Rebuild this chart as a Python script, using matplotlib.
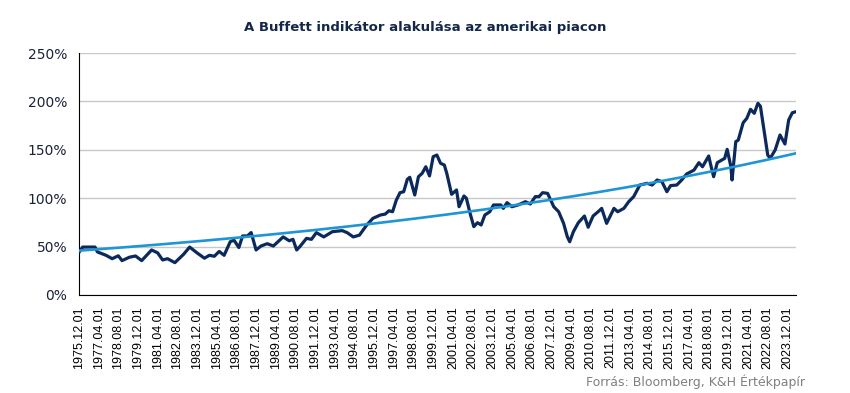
import numpy as np
import pandas as pd
import matplotlib
matplotlib.use('Agg')
import matplotlib.pyplot as plt
import matplotlib.dates as mdates
from matplotlib.ticker import FuncFormatter

# Buffett indikator (piaci kapitalizacio / GDP, %) - leolvasott ertekek
dates = ['1975-12', '1976-03', '1977-01', '1977-03', '1977-10', '1978-03', '1978-08', '1978-11',
         '1979-05', '1979-10', '1980-03', '1980-11', '1981-04', '1981-08', '1981-12', '1982-06',
         '1983-01', '1983-06', '1983-12', '1984-06', '1984-10', '1985-02', '1985-06', '1985-10',
         '1986-03', '1986-06', '1986-10', '1987-01', '1987-05', '1987-08', '1987-12', '1988-04',
         '1988-09', '1989-02', '1989-10', '1990-03', '1990-06', '1990-09', '1990-12', '1991-05',
         '1991-09', '1992-01', '1992-07', '1993-02', '1993-10', '1994-02', '1994-07', '1994-12',
         '1995-06', '1995-11', '1996-05', '1996-09', '1996-12', '1997-03', '1997-06', '1997-09',
         '1997-12', '1998-03', '1998-05', '1998-09', '1998-12', '1999-03', '1999-06', '1999-09',
         '1999-12', '2000-03', '2000-06', '2000-09', '2000-11', '2001-03', '2001-07', '2001-09',
         '2002-01', '2002-03', '2002-06', '2002-09', '2002-12', '2003-03', '2003-06', '2003-10',
         '2004-01', '2004-07', '2004-09', '2004-12', '2005-04', '2005-09', '2006-03', '2006-07',
         '2006-11', '2007-02', '2007-05', '2007-09', '2008-02', '2008-06', '2008-10', '2009-01',
         '2009-03', '2009-06', '2009-10', '2010-03', '2010-06', '2010-10', '2011-03', '2011-05',
         '2011-09', '2012-03', '2012-06', '2012-11', '2013-03', '2013-07', '2013-12', '2014-06',
         '2014-10', '2015-02', '2015-06', '2015-10', '2016-01', '2016-06', '2016-10', '2017-02',
         '2017-08', '2017-12', '2018-03', '2018-08', '2018-10', '2018-12', '2019-03', '2019-06',
         '2019-09', '2019-11', '2020-02', '2020-03', '2020-06', '2020-08', '2020-12', '2021-03',
         '2021-06', '2021-09', '2021-12', '2022-02', '2022-05', '2022-08', '2022-10', '2023-02',
         '2023-06', '2023-10', '2024-01', '2024-04', '2024-07']
values = [44, 49.5, 49.5, 44.5, 41, 37.5, 40.5, 35.5,
          39, 40.3, 35.5, 46.5, 43.5, 36.2, 37.5, 33.4,
          42, 49.5, 43.5, 38, 41, 40, 45, 41,
          55, 56.7, 49, 61, 61, 64.5, 46.5, 50.6,
          53, 50.6, 60, 56, 57.5, 46.5, 50.6, 58.5,
          57.5, 64.4, 60, 65.4, 66.5, 64.4, 60, 61.8,
          72.3, 79.2, 82.6, 83.6, 87, 86, 98, 105.7,
          106.7, 119.5, 121.6, 103.3, 122.2, 125.6, 132.5, 123,
          142.9, 144.6, 136, 134.3, 125.7, 104, 108.5, 91.2,
          102.3, 100, 84.4, 70.6, 74.7, 72.3, 82.6, 86,
          93, 93, 89.5, 95.4, 91.2, 93, 96.4, 94,
          101.6, 101.6, 105.7, 105, 91.2, 86, 74, 60.2,
          55, 65.4, 74.7, 81.6, 70, 81.6, 87, 89.5,
          74, 89.5, 86, 89.5, 96.4, 101.6, 113.6, 115.4,
          113.6, 118.8, 117, 106.7, 113, 113.6, 118.8, 125,
          129, 136.7, 132.5, 143.6, 132.5, 122.2, 136.7, 139,
          141.2, 150.5, 132.5, 118.8, 158.4, 160, 178, 182.5,
          191.8, 187.7, 198, 195, 170.5, 144.6, 141.2, 149.8,
          165.3, 156, 180.8, 188.3, 189.4]

# exponencialis trendvonal kezdo- es vegpontja (leolvasva)
trend_start = 45.8
trend_end = 146.4

title = 'A Buffett indikátor alakulása az amerikai piacon'
source = 'Forrás: Bloomberg, K&H Értékpapír'

x = pd.to_datetime(dates)
y = np.array(values)

fig = plt.figure(figsize=(8.5, 3.93), dpi=100)
ax = fig.add_axes([0.0929, 0.2494, 0.8436, 0.6157])

# trendvonal: exponencialis az elso es utolso datum kozott
xn = mdates.date2num(x)
frac = (xn - xn[0]) / (xn[-1] - xn[0])
trend = trend_start * (trend_end / trend_start) ** frac

ax.plot(x, y, color='#0b2a5b', lw=2.3, solid_joinstyle='round', solid_capstyle='round', zorder=3)
ax.plot(x, trend, color='#1e95d4', lw=1.9, zorder=4)

ax.set_ylim(0, 250)
ax.set_yticks([0, 50, 100, 150, 200, 250])
ax.yaxis.set_major_formatter(FuncFormatter(lambda v, p: f'{v:.0f}%'))
for lab in ax.get_yticklabels():
    lab.set_family(['Liberation Sans Narrow', 'DejaVu Sans'])
ax.grid(axis='y', color='#c8c8c8', lw=1)
ax.set_axisbelow(True)

ax.set_xlim(x[0], x[-1])
ticks = pd.date_range('1975-12-01', '2023-12-01', freq='16MS')
ax.set_xticks(ticks)
ax.set_xticklabels([t.strftime('%Y.%m.%d') for t in ticks], rotation=90,
                   fontsize=9, family='Liberation Sans')
ax.tick_params(axis='both', length=0)
ax.tick_params(axis='x', pad=8)
ax.tick_params(axis='y', labelsize=10, pad=8.5, labelcolor='#1a2238')

for s in ['top', 'right']:
    ax.spines[s].set_visible(False)
ax.spines['left'].set_color('black')
ax.spines['bottom'].set_color('black')

fig.text(0.5, 0.93, title, ha='center', va='center', fontsize=9.5,
         fontweight='bold', color='#14264a')
fig.text(0.947, 0.028, source, ha='right', va='center', fontsize=9, color='#808080')

plt.savefig('out.png', dpi=100)
